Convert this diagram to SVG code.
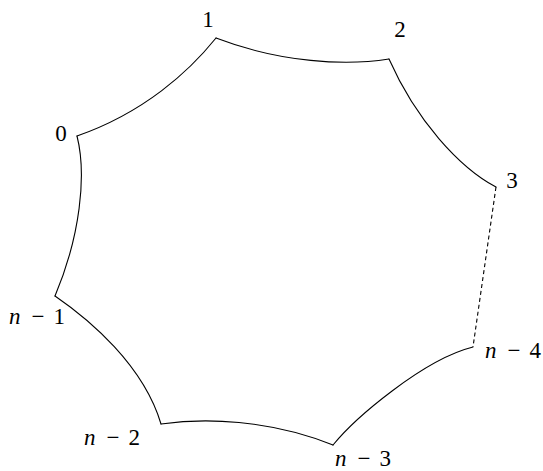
<svg xmlns="http://www.w3.org/2000/svg" width="543" height="471" viewBox="0 0 543 471">
<style>
.e{fill:none;stroke:#000;stroke-width:1.1;stroke-linecap:round}
.d{stroke-dasharray:4 3;stroke-linecap:butt}
.m{text-anchor:middle}
.r{text-anchor:end}
.i{font-style:italic}
</style>
<rect width="543" height="471" fill="#fff"/>
<g id="connectors">
<path class="e" d="M77,136 C144.4,112.5 189.35,71.13 216,38"/>
<path class="e" d="M216,38 C281.1,62.9 345.97,65.88 389,59"/>
<path class="e" d="M389,59 C416,120 459.2,167.4 496,187"/>
<path class="e d" d="M496,187 L473,347"/>
<path class="e" d="M473,347 C423.25,359.4 354.51,418.44 333,445"/>
<path class="e" d="M333,445 C268.7,419.1 203.9,417.9 161,424"/>
<path class="e" d="M161,424 C143.4,365.1 89.3,319.5 55,296"/>
<path class="e" d="M55,296 C80.07,236.46 86.89,175.17 77,136"/>
</g>
<g font-family="Liberation Serif, DejaVu Serif, serif" font-size="23" fill="#000">
<g id="v0"><text class="m" x="61" y="141">0</text></g>
<g id="v1"><text class="m" x="208" y="27">1</text></g>
<g id="v2"><text class="m" x="400" y="37">2</text></g>
<g id="v3"><text class="m" x="512" y="188">3</text></g>
<g id="vn4"><text class="i" x="485" y="358">n</text><text class="m" x="514" y="358">−</text><text class="r" x="541" y="358">4</text></g>
<g id="vn3"><text class="i" x="335" y="466">n</text><text class="m" x="364" y="466">−</text><text class="r" x="391" y="466">3</text></g>
<g id="vn2"><text class="i" x="84" y="445">n</text><text class="m" x="113" y="445">−</text><text class="r" x="140" y="445">2</text></g>
<g id="vn1"><text class="i" x="9" y="324">n</text><text class="m" x="38" y="324">−</text><text class="r" x="65" y="324">1</text></g>
</g>
</svg>
